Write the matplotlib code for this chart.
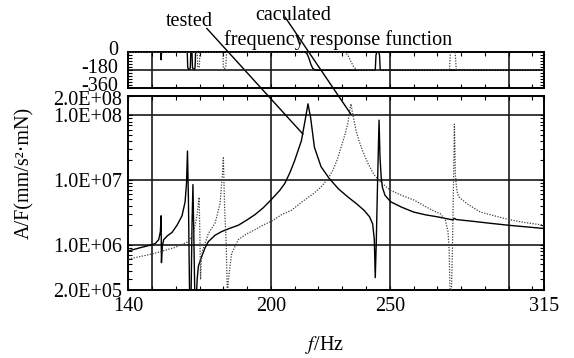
import matplotlib
matplotlib.use("Agg")
import matplotlib.pyplot as plt
import matplotlib.transforms as mtransforms
from matplotlib.ticker import MultipleLocator, LogLocator, NullFormatter

plt.rcParams['font.family'] = ['Liberation Serif', 'DejaVu Serif']
plt.rcParams['mathtext.fontset'] = 'stix'

# 幅值 - tested (实测)
tested_f = [140, 145, 150, 151.4, 152.8, 153.5, 153.8, 153.95, 154.3, 154.9, 156.5, 158.4,
            160.5, 162.6, 163.9, 164.5, 164.9, 165.3, 165.8, 166.4, 166.8, 167.2, 167.6,
            168.0, 168.6, 169.0, 169.5, 170.9, 172.3, 173.7, 176.5, 179.3, 182.8, 186.3,
            189.8, 193.2, 196.7, 200.2, 203.7, 205.8, 208, 210, 212.8, 214.6, 215.6, 216.7,
            218.3, 221.1, 224.6, 228.4, 232.3, 236, 239.2, 241.5, 242.8, 243.5, 243.9, 244.3,
            244.8, 245.2, 245.5, 245.9, 246.4, 246.9, 248, 250.4, 255, 260, 265, 270, 276.5,
            277.2, 278, 285, 292, 300, 308, 315]
tested_a = [8.0e5, 9.0e5, 1.0e6, 1.05e6, 1.2e6, 1.6e6, 2.8e6, 5.3e5, 9.5e5, 1.2e6, 1.38e6, 1.55e6,
            2.0e6, 2.8e6, 4.6e6, 9e6, 2.8e7, 5e6, 1.5e5, 1.5e5, 2e6, 8.5e6, 1.2e6,
            1.5e5, 1.5e5, 3e5, 4.7e5, 6.6e5, 9e5, 1.12e6, 1.4e6, 1.6e6, 1.8e6, 2.0e6,
            2.4e6, 2.9e6, 3.7e6, 5.0e6, 6.9e6, 8.8e6, 1.3e7, 2.0e7, 4.0e7, 9.2e7, 1.5e8, 9.2e7,
            3.2e7, 1.6e7, 1.05e7, 7.3e6, 5.5e6, 4.3e6, 3.4e6, 2.7e6, 2.1e6, 1.2e6, 3.1e5, 1.0e6,
            7e6, 3e7, 8.4e7, 2.2e7, 1.1e7, 7.7e6, 5.8e6, 4.6e6, 3.8e6, 3.2e6, 2.9e6, 2.7e6, 2.42e6,
            2.55e6, 2.45e6, 2.3e6, 2.15e6, 2.0e6, 1.88e6, 1.78e6]

# 幅值 - caculated (计算)
calc_f = [140, 150, 159.7, 165.3, 167.4, 168.8, 169.4, 169.8, 170.1, 170.4, 170.7, 171.2,
          173.7, 176.5, 178.6, 179.6, 180.0, 180.5, 181.2, 181.7, 182.1, 183.5, 186.3, 189.5,
          193.2, 196.5, 200.2, 204.4, 208.6, 214.1, 218, 221.1, 224, 226, 228, 229.5, 231,
          232.3, 233.2, 233.7, 234.3, 235.8, 237.2, 238.6, 241, 243.4, 246.5, 250.4, 255,
          260.2, 265, 268, 271.3, 273.4, 274.5, 275.0, 275.4, 275.9, 276.4, 276.8, 277.2,
          277.6, 278.2, 279, 282.5, 288.1, 294, 300, 307, 315]
calc_a = [6.0e5, 7.2e5, 9.1e5, 1.12e6, 1.5e6, 2.7e6, 4e6, 5.4e6, 1.5e6, 2.9e5, 5.5e5, 8e5,
          1.5e6, 2.15e6, 4.3e6, 1.25e7, 2.2e7, 4e6, 1e6, 1.5e5, 2.9e5, 7.4e5, 1.2e6, 1.45e6,
          1.7e6, 2.0e6, 2.3e6, 2.9e6, 3.4e6, 4.9e6, 6.2e6, 7.8e6, 1.05e7, 1.4e7, 2.1e7, 3.2e7, 4.8e7,
          7.3e7, 1.2e8, 1.5e8, 1.1e8, 5.8e7, 3.9e7, 2.8e7, 1.75e7, 1.2e7, 9e6, 6.9e6, 5.8e6,
          4.9e6, 3.9e6, 3.4e6, 3.0e6, 2.4e6, 1.6e6, 8e5, 1.5e5, 1.5e5, 1e6, 8e6, 7.3e7,
          1.2e7, 6.9e6, 5.5e6, 4.3e6, 3.2e6, 2.8e6, 2.45e6, 2.2e6, 2.0e6]

# 相位
tested_ph_f = [140, 153.6, 153.8, 154.0, 164.8, 165.0, 165.3, 165.9, 166.1, 166.3, 166.8, 167.0,
               167.3, 167.9, 168.1, 168.3, 214.5, 215.2, 216.0, 216.8, 217.6, 218.5, 219.7,
               243.9, 244.2, 244.5, 245.4, 245.7, 246.0, 315]
tested_ph = [0, 0, -75, 0, 0, -150, -168, -168, -150, 0, 0, -150,
             -168, -168, -150, 0, 0, -15, -60, -120, -160, -176, -180,
             -180, -30, 0, 0, -30, -180, -180]
calc_ph_f = [140, 169.0, 169.2, 169.5, 169.9, 170.1, 179.8, 180.0, 180.4, 181.0, 181.3,
             231.0, 232.3, 233.5, 234.8, 236.0, 237.2, 275.1, 275.5, 277.5, 278.0, 315]
calc_ph = [0, 0, -140, -155, -140, 0, 0, -150, -165, -150, 0,
           0, -25, -85, -145, -172, -180, -180, 0, 0, -180, -180]

ytick_vals = [2e5, 1e6, 1e7, 1e8, 2e8]
ytick_labels = ['2.0E+05', '1.0E+06', '1.0E+07', '1.0E+08', '2.0E+08']
xtick_vals = [140, 200, 250, 315]

fs = 14.5
grid_kw = dict(color='#1a1a1a', lw=1.2, zorder=1)

fig = plt.figure(figsize=(5.74, 3.58), dpi=100)
ax = fig.add_axes([0.2235, 0.1899, 0.7247, 0.5427])
axp = fig.add_axes([0.2235, 0.7534, 0.7247, 0.1006])
axp.set_facecolor('none')

# 幅值图
ax.plot(tested_f, tested_a, color='black', lw=1.0, zorder=3)
ax.plot(calc_f, calc_a, color='#404040', lw=0.9, ls=(0, (1, 1.2)), zorder=3)
ax.set_yscale('log')
ax.set_xlim(140, 315)
ax.set_ylim(2e5, 2e8)
for x in [150, 200, 250, 300]:
    ax.axvline(x, **grid_kw)
for y in [1e6, 1e7, 1e8]:
    ax.axhline(y, **grid_kw)
ax.set_xticks(xtick_vals)
ax.set_xticklabels([str(v) for v in xtick_vals], fontsize=fs)
ax.xaxis.set_minor_locator(MultipleLocator(10))
ax.set_yticks(ytick_vals)
ax.set_yticklabels(ytick_labels, fontsize=fs)
ax.yaxis.set_minor_locator(LogLocator(base=10, subs=range(2, 10)))
ax.yaxis.set_minor_formatter(NullFormatter())
ax.tick_params(which='both', direction='in', top=True, right=True, length=3, width=0.8)
ax.tick_params(axis='x', pad=5)
ax.tick_params(axis='y', pad=4.5)
for s in ax.spines.values():
    s.set_linewidth(1.4)

# 相位图
axp.plot(tested_ph_f, tested_ph, color='black', lw=1.0, zorder=3)
axp.plot(calc_ph_f, calc_ph, color='#404040', lw=0.9, ls=(0, (1, 1.2)), zorder=3)
axp.set_xlim(140, 315)
axp.set_ylim(-360, 0)
for x in [150, 200, 250, 300]:
    axp.axvline(x, **grid_kw)
axp.axhline(-180, **grid_kw)
axp.set_xticks(xtick_vals)
axp.set_xticklabels([])
axp.xaxis.set_minor_locator(MultipleLocator(10))
axp.set_yticks([0, -180, -360])
axp.set_yticklabels(['0', '-180', '-360'], fontsize=fs)
axp.yaxis.set_minor_locator(MultipleLocator(30))
axp.tick_params(which='both', direction='in', top=True, right=True, length=3, width=0.8)
axp.tick_params(axis='y', pad=7)
for s in axp.spines.values():
    s.set_linewidth(1.4)

# 标签位置微调 (上移相位标签, 下移 2.0E+08)
up = mtransforms.ScaledTranslation(0, 4 / 100, fig.dpi_scale_trans)
down = mtransforms.ScaledTranslation(0, -2.5 / 100, fig.dpi_scale_trans)
for lab in axp.get_yticklabels():
    lab.set_transform(lab.get_transform() + up)
top_lab = ax.get_yticklabels()[-1]
top_lab.set_transform(top_lab.get_transform() + down)

# 标注
fig.text(166 / 574, 1 - 26.5 / 358, 'tested', fontsize=fs, va='baseline', ha='left')
fig.text(255 / 574, 1 - 20 / 358, 'caculated', fontsize=fs, va='baseline', ha='left')
fig.text(224 / 574, 1 - 45 / 358, 'frequency response function', fontsize=fs,
         va='baseline', ha='left')
ax.annotate('', xy=(213.5, 5.1e7), xycoords='data',
            xytext=(206.7 / 574, 1 - 28.3 / 358), textcoords='figure fraction',
            arrowprops=dict(arrowstyle='-', color='black', lw=1.0, shrinkA=0, shrinkB=0),
            annotation_clip=False)
ax.annotate('', xy=(233.7, 1.03e8), xycoords='data',
            xytext=(285 / 574, 1 - 17 / 358), textcoords='figure fraction',
            arrowprops=dict(arrowstyle='-', color='black', lw=1.0, shrinkA=0, shrinkB=0),
            annotation_clip=False)

fig.text(25 / 574, 1 - 173 / 358, 'A/F(mm/s²·mN)', fontsize=fs, rotation=90,
         ha='center', va='center')
fig.text(324.5 / 574, 1 - 350 / 358, r'$f$/Hz', fontsize=fs, ha='center', va='baseline')

fig.savefig('out.png', dpi=100)
